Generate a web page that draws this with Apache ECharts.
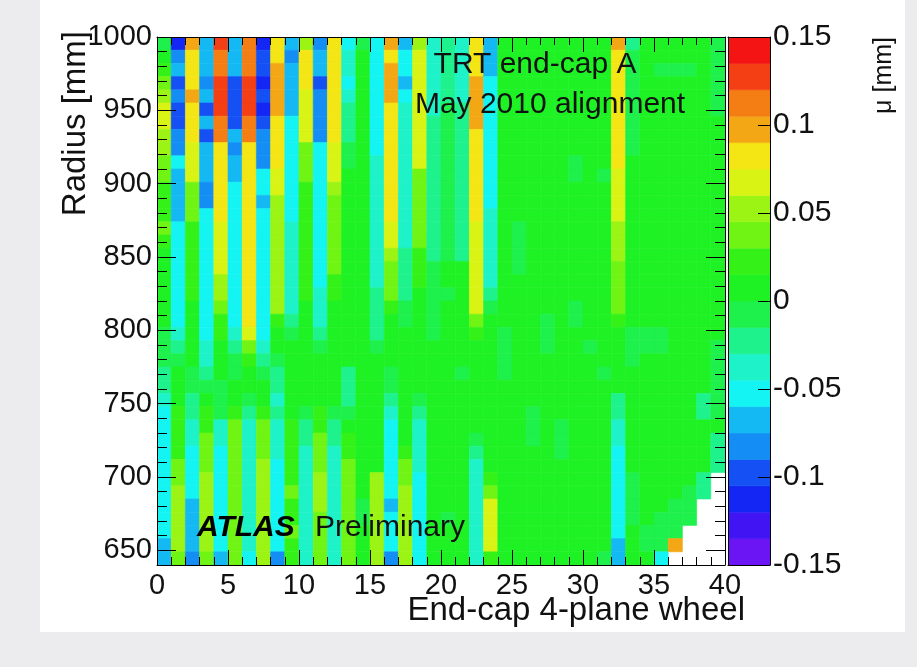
<!DOCTYPE html>
<html>
<head>
<meta charset="utf-8">
<script src="https://cdn.jsdelivr.net/npm/echarts@6.0.0/dist/echarts.min.js"></script>
<style>
html,body{margin:0;padding:0;background:#ececee;width:917px;height:667px;overflow:hidden;}
#panel{position:absolute;left:40px;top:0;width:865px;height:632px;background:#ffffff;}
#c{position:absolute;left:0;top:0;width:917px;height:667px;}
</style>
</head>
<body>
<div id="panel"></div>
<div id="c"></div>
<script>
// ---- data -----------------------------------------------------------
// End-cap 4-plane wheel index (x)
const wheels = [0,1,2,3,4,5,6,7,8,9,10,11,12,13,14,15,16,17,18,19,20,21,22,23,24,25,26,27,28,29,30,31,32,33,34,35,36,37,38,39];
// lower edge of each radius bin [mm], listed from the top row (1000) down to the bottom row (640)
const radiusLow = [991,982,973,964,955,946,937,928,919,910,901,892,883,874,865,856,847,838,829,820,811,802,793,784,775,766,757,748,739,730,721,712,703,694,685,676,667,658,649,640];
const radiusBinWidth = 9;   // mm
const wheelBinWidth = 1;
// mean residual per cell, in micrometres, one array per wheel, top row first (null = empty bin)
const muMicron = [
 [-7,6,22,37,52,67,67,52,52,37, 37,22,22,22,37,22,6,6,6,6, 6,6,-7,-7,-7,-22,-22,-37,-52,-52, -52,-52,-52,-52,-52,-52,-52,-52,-67,-67],
 [-112,-82,-67,-97,-82,-97,-97,-82,-82,-52, -67,-67,-67,-67,-52,-52,-52,-52,-52,-52, -52,-52,-37,-22,-7,6,6,6,22,22, 22,22,37,37,52,52,52,52,52,37],
 [97,82,82,82,97,82,82,82,67,67, 67,37,37,37,22,22,22,22,22,22, 6,6,6,6,6,-7,-7,-22,-22,-37, -37,-52,-52,-52,-52,-67,-67,-67,-67,-82],
 [-67,-67,-67,-82,-67,-97,-67,-97,-67,-67, -67,-82,-82,-52,-52,-52,-52,-52,-52,-52, -52,-52,-52,-37,-37,-22,-7,6,22,22, 37,37,37,52,52,52,52,52,52,37],
 [127,112,112,127,127,127,112,112,82,82, 82,82,82,82,67,67,67,67,52,52, 37,22,22,6,6,6,-7,-7,-7,-37, -37,-52,-52,-52,-52,-52,-52,-52,-52,-67],
 [-67,-67,-67,-97,-97,-97,-97,-67,-82,-67, -67,-52,-52,-52,-52,-52,-52,-52,-52,-52, -52,-52,-37,-22,-7,-7,6,6,22,37, 37,37,37,37,37,37,37,37,37,37],
 [112,112,112,127,127,127,112,112,82,82, 82,82,82,82,82,82,82,82,82,82, 82,82,67,37,22,6,6,-7,-22,-37, -37,-37,-37,-37,-37,-37,-37,-37,-37,-52],
 [-112,-97,-97,-112,-97,-112,-97,-82,-82,-82, -52,-52,-67,-52,-52,-52,-52,-52,-52,-52, -52,-52,-52,-37,-22,-7,6,6,22,37, 37,37,52,52,52,52,52,52,52,52],
 [82,82,97,97,97,97,82,82,82,82, 67,67,52,52,52,52,52,52,52,52, 52,22,6,6,-7,-22,-22,-37,-22,-37, -37,-37,-52,-52,-52,-52,-52,-52,-52,-82],
 [-67,-82,-67,-67,-67,-67,-52,-52,-52,-52, -52,-52,-52,-52,-37,-37,-37,-37,-37,-37, -37,-22,-7,6,6,6,6,6,6,22, 22,22,22,22,37,22,22,37,22,22],
 [52,82,82,82,67,67,67,67,37,37, 37,22,22,22,22,22,22,22,22,22, 6,6,6,6,6,6,6,6,-7,-22, -22,-37,-37,-37,-37,-37,-37,-37,-37,-37],
 [-82,-67,-67,-97,-82,-82,-82,-82,-52,-52, -52,-52,-52,-52,-52,-52,-52,-52,-52,-37, -37,-37,-22,-7,6,6,6,6,22,22, 37,37,37,52,52,52,37,37,37,37],
 [82,82,82,82,82,82,82,82,67,67, 67,52,37,37,37,37,37,37,22,22, 6,6,6,6,6,6,6,6,-7,-22, -22,-37,-37,-37,-37,-37,-37,-37,-37,-37],
 [-52,-37,-37,-52,-37,-22,-22,-22,-7,-7, 6,6,6,6,6,6,6,6,6,6, 6,6,6,6,6,-22,-22,-22,-7,6, 22,22,37,37,37,37,37,37,37,37],
 [-7,6,6,6,6,6,6,6,6,6, 6,6,6,6,6,6,6,6,6,6, 6,6,6,6,6,6,6,6,6,6, 6,6,6,6,6,-7,-7,6,6,6],
 [-52,-52,-52,-52,-52,-52,-52,-52,-52,-37, -37,-37,-37,-37,-37,-37,-37,-37,-37,-22, -22,-22,-22,-7,6,6,6,6,6,6, 6,6,6,52,52,52,52,52,52,52],
 [97,82,97,97,97,82,82,82,82,82, 82,82,82,82,67,67,52,37,37,37, 22,6,6,6,6,-7,-7,-22,-37,-52, -52,-52,-52,-52,-52,-67,-52,-52,-52,-82],
 [-67,-52,-52,-67,-52,-37,-37,-37,-37,-37, -37,-37,-37,-37,-37,-37,-22,-22,-22,-22, -7,-7,6,6,6,6,6,6,6,6, 6,22,37,37,52,52,52,52,52,52],
 [52,67,67,67,67,67,67,67,67,67, 37,37,37,37,37,37,22,22,22,6, 6,6,6,6,6,6,6,-7,-22,-37, -37,-37,-37,-52,-52,-52,-52,-52,-52,-52],
 [-37,-37,-37,-37,-37,-37,-22,-22,-22,-22, -22,-22,-22,-22,-22,-22,-22,-7,-7,-7, -7,-7,-7,6,6,6,6,6,6,6, 6,6,6,6,6,6,6,6,6,6],
 [-22,-22,-22,-22,-22,-7,-7,-7,-7,-7, -7,-7,-7,-7,-7,-7,-7,6,6,-7, 6,6,6,6,6,6,6,6,6,6, 6,6,6,6,6,6,-7,6,6,6],
 [-37,-37,-37,-37,-37,-22,-22,-22,-22,-22, -22,-22,-22,-22,-22,-22,-22,6,6,6, 6,6,6,6,6,-7,6,6,6,6, 6,6,6,6,6,6,6,6,6,6],
 [82,82,82,97,97,97,97,82,82,82, 82,82,82,82,67,67,67,67,67,67, 67,37,22,6,6,6,6,6,6,6, -7,-22,-37,-37,-37,-37,-37,-37,-37,-37],
 [-67,-67,-67,-52,-52,-52,-52,-52,-52,-52, -52,-52,-52,-37,-37,-37,-37,-37,-37,-22, -7,6,6,6,6,6,6,6,6,6, 6,6,6,22,37,67,67,67,67,22],
 [6,6,6,6,6,6,6,6,6,6, 6,6,6,6,6,6,6,6,6,6, 6,6,-7,-7,-7,-7,6,6,6,6, 6,6,6,6,6,6,6,6,6,6],
 [6,6,6,6,6,6,6,6,6,6, 6,6,6,6,-7,-7,-7,-7,6,6, 6,6,6,6,6,6,6,6,6,6, 6,6,6,6,6,6,6,6,6,6],
 [6,6,6,6,6,6,6,6,6,6, 6,6,6,6,6,6,6,6,6,6, 6,6,6,6,6,6,6,6,-7,-7, -7,6,6,6,6,6,6,6,6,6],
 [6,6,6,6,6,6,6,6,6,6, 6,6,6,6,6,6,6,6,6,6, 6,-7,-7,-7,6,6,6,6,6,6, 6,6,6,6,6,6,6,6,6,6],
 [6,6,6,6,6,6,6,6,6,6, 6,6,6,6,6,6,6,6,6,6, 6,6,6,6,6,6,6,6,6,-7, -7,-7,6,6,6,6,6,6,6,6],
 [6,6,6,6,6,6,6,6,6,-7, -7,6,6,6,6,6,6,6,6,6, -7,-7,6,6,6,6,6,6,6,6, 6,6,6,6,6,6,6,6,6,6],
 [6,6,6,6,6,6,6,6,6,6, 6,6,6,6,6,6,6,6,6,6, 6,6,6,-7,6,6,6,6,6,6, 6,6,6,6,6,6,6,6,6,6],
 [6,6,6,6,6,6,6,6,6,6, -7,6,6,6,6,6,6,6,6,6, 6,6,6,6,6,-7,6,6,6,6, 6,6,6,6,6,6,6,6,6,-7],
 [97,82,82,82,82,82,82,82,82,82, 67,67,67,67,52,52,52,37,37,37, 37,22,6,6,6,6,6,-22,-22,-37, -37,-52,-52,-52,-52,-52,-52,-52,-67,-67],
 [-22,-7,-7,-7,-7,-7,-7,-7,-7,6, 6,6,6,6,6,6,6,6,6,6, 6,6,-7,-7,-7,6,6,6,6,6, 6,6,6,-7,-7,-7,-7,6,6,6],
 [6,6,6,6,6,6,6,6,6,6, 6,6,6,6,6,6,6,6,6,6, 6,6,-7,-7,6,6,6,6,6,6, 6,6,6,6,6,6,6,-7,-7,6],
 [6,6,-7,6,6,6,6,6,6,6, 6,6,6,6,6,6,6,6,6,6, 6,6,-7,-7,6,6,6,6,6,6, 6,6,6,6,6,6,-7,-7,-7,-52],
 [6,6,-7,6,6,6,6,6,6,6, 6,6,6,6,6,6,6,6,6,6, 6,6,6,6,6,6,6,6,6,6, 6,6,6,6,6,-7,-7,-7,97,null],
 [6,6,-7,6,6,6,6,6,6,6, 6,6,6,6,6,6,6,6,6,6, 6,6,6,6,6,6,6,6,6,6, 6,6,6,6,-7,-7,-7,null,null,null],
 [6,6,6,6,6,6,6,6,6,6, 6,6,6,6,6,6,6,6,6,6, 6,6,6,6,6,6,6,-22,-22,6, 6,6,6,-22,-22,null,null,null,null,null],
 [-7,-7,-7,-7,-7,-7,6,6,6,6, 6,6,6,6,6,6,6,6,6,6, 6,6,6,-7,-7,-7,-7,-7,-7,6, -22,-22,-22,null,null,null,null,null,null,null]
];
// colour contour levels (mm) and ROOT-like rainbow palette
const levelEdges = [-0.15,-0.135,-0.12,-0.105,-0.09,-0.075,-0.06,-0.045,-0.03,-0.015,0,0.015,0.03,0.045,0.06,0.075,0.09,0.105,0.12,0.135,0.15];
const levelColors = ['#6b14f4','#4114f4','#1426f4','#1450f4','#148ef4','#14b9f4','#14f4f2','#1ef2c8','#1ef28c','#1ef04c','#1ef224','#34f218','#70f414','#9bf414','#d9f414','#f4e514','#f4a714','#f47d14','#f43e14','#f41414'];
// tick values
const yMajorTicks = [650,700,750,800,850,900,950,1000];

// ---- build ----------------------------------------------------------
const cells = [];
muMicron.forEach(function (col, wi) {
  col.forEach(function (v, ri) {
    if (v !== null) cells.push([wheels[wi], radiusLow[ri], v / 1000]);
  });
});
const bands = levelColors.map(function (c, i) { return [levelEdges[i], levelEdges[i + 1], i]; });
const pieces = levelColors.map(function (c, i) {
  const p = { gte: levelEdges[i], color: c };
  if (i === levelColors.length - 1) p.lte = levelEdges[i + 1]; else p.lt = levelEdges[i + 1];
  return p;
});

const FONT = "'Liberation Sans', Arial, Helvetica, sans-serif";
const black = '#000';
const lab = { color: '#111', fontSize: 29, fontFamily: FONT };

function frameAxis(extra) {
  return Object.assign({
    type: 'value', z: 5,
    axisLine: { show: true, onZero: false, lineStyle: { color: black, width: 1 } },
    axisTick: { show: true, inside: true, length: 9, lineStyle: { color: black } },
    axisLabel: { show: false },
    splitLine: { show: false }
  }, extra);
}

const option = {
  animation: false,
  backgroundColor: 'transparent',
  grid: [
    { left: 157, top: 37, width: 568, height: 528, containLabel: false, outerBoundsMode: 'none' },
    { left: 728, top: 37, width: 42, height: 528, containLabel: false, outerBoundsMode: 'none' }
  ],
  xAxis: [
    frameAxis({ gridIndex: 0, position: 'bottom', min: 0, max: 40, interval: 5,
      axisTick: { show: true, inside: true, length: 15, lineStyle: { color: black } },
      minorTick: { show: true, splitNumber: 5, length: 8, lineStyle: { color: black } },
      axisLabel: Object.assign({ show: true, margin: 6 }, lab) }),
    frameAxis({ gridIndex: 0, position: 'top', min: 0, max: 40, interval: 5,
      axisTick: { show: true, inside: true, length: 15, lineStyle: { color: black } },
      minorTick: { show: true, splitNumber: 5, length: 8, lineStyle: { color: black } } }),
    frameAxis({ gridIndex: 1, position: 'bottom', min: 0, max: 1, axisTick: { show: false } }),
    frameAxis({ gridIndex: 1, position: 'top', min: 0, max: 1, axisTick: { show: false } })
  ],
  yAxis: [
    frameAxis({ gridIndex: 0, position: 'left', min: 640, max: 1000, interval: 10,
      axisTick: { show: true, inside: true, length: 10, lineStyle: { color: black } },
      axisLabel: Object.assign({ show: true, margin: 5,
        formatter: function (v) { return yMajorTicks.indexOf(v) >= 0 ? String(v) : ''; } }, lab) }),
    frameAxis({ gridIndex: 0, position: 'left', min: 640, max: 1000,
      axisLine: { show: false, onZero: false },
      axisTick: { show: true, inside: true, length: 19, customValues: yMajorTicks, lineStyle: { color: black } } }),
    frameAxis({ gridIndex: 0, position: 'right', min: 640, max: 1000, interval: 10,
      axisTick: { show: true, inside: true, length: 10, lineStyle: { color: black } } }),
    frameAxis({ gridIndex: 0, position: 'right', min: 640, max: 1000,
      axisLine: { show: false, onZero: false },
      axisTick: { show: true, inside: true, length: 19, customValues: yMajorTicks, lineStyle: { color: black } } }),
    frameAxis({ gridIndex: 1, position: 'right', min: -0.15, max: 0.15, interval: 0.05,
      axisTick: { show: true, inside: true, length: 12, lineStyle: { color: black } },
      axisLabel: { show: true, margin: 3, color: '#111', fontSize: 30, fontFamily: FONT } }),
    frameAxis({ gridIndex: 1, position: 'left', min: -0.15, max: 0.15, axisTick: { show: false } })
  ],
  visualMap: {
    type: 'piecewise', show: false, dimension: 2, seriesIndex: 0, pieces: pieces
  },
  series: [
    {
      type: 'custom', name: 'mu', xAxisIndex: 0, yAxisIndex: 0, clip: true,
      encode: { x: 0, y: 1 },
      data: cells,
      renderItem: function (params, api) {
        const x = api.value(0), r = api.value(1);
        const p0 = api.coord([x, r + radiusBinWidth]);
        const p1 = api.coord([x + wheelBinWidth, r]);
        const col = api.visual('color');
        return { type: 'rect',
          shape: { x: p0[0], y: p0[1], width: p1[0] - p0[0], height: p1[1] - p0[1] },
          style: { fill: col, stroke: col, lineWidth: 0.6 } };
      }
    },
    {
      type: 'custom', name: 'palette', xAxisIndex: 2, yAxisIndex: 4, clip: true,
      encode: { y: [0, 1] },
      data: bands,
      renderItem: function (params, api) {
        const p0 = api.coord([0, api.value(1)]);
        const p1 = api.coord([1, api.value(0)]);
        const col = levelColors[api.value(2)];
        return { type: 'rect',
          shape: { x: p0[0], y: p0[1], width: p1[0] - p0[0], height: p1[1] - p0[1] },
          style: { fill: col, stroke: col, lineWidth: 0.6 } };
      }
    }
  ],
  graphic: [
    { type: 'text', x: 76, y: 31, rotation: Math.PI / 2,
      style: { text: 'Radius [mm]', fontSize: 33, fontFamily: FONT, fill: '#111', align: 'right', verticalAlign: 'middle' } },
    { type: 'text', x: 745, y: 611,
      style: { text: 'End-cap 4-plane wheel', fontSize: 33, fontFamily: FONT, fill: '#111', align: 'right', verticalAlign: 'middle' } },
    { type: 'text', x: 884, y: 37, rotation: Math.PI / 2,
      style: { text: 'μ [mm]', fontSize: 25, fontFamily: FONT, fill: '#111', align: 'right', verticalAlign: 'middle' } },
    { type: 'text', x: 535, y: 65, z: 20,
      style: { text: 'TRT end-cap A', fontSize: 30, fontFamily: FONT, fill: '#111', align: 'center', verticalAlign: 'middle' } },
    { type: 'text', x: 550, y: 105, z: 20,
      style: { text: 'May 2010 alignment', fontSize: 30, fontFamily: FONT, fill: '#111', align: 'center', verticalAlign: 'middle' } },
    { type: 'text', x: 197, y: 528, z: 20,
      style: { text: 'ATLAS', fontSize: 30, fontFamily: FONT, fontWeight: 'bold', fontStyle: 'italic', fill: '#000', align: 'left', verticalAlign: 'middle' } },
    { type: 'text', x: 315, y: 528, z: 20,
      style: { text: 'Preliminary', fontSize: 30, fontFamily: FONT, fill: '#111', align: 'left', verticalAlign: 'middle' } }
  ]
};

const chart = echarts.init(document.getElementById('c'), null, { renderer: 'canvas' });
chart.setOption(option);
</script>
</body>
</html>
